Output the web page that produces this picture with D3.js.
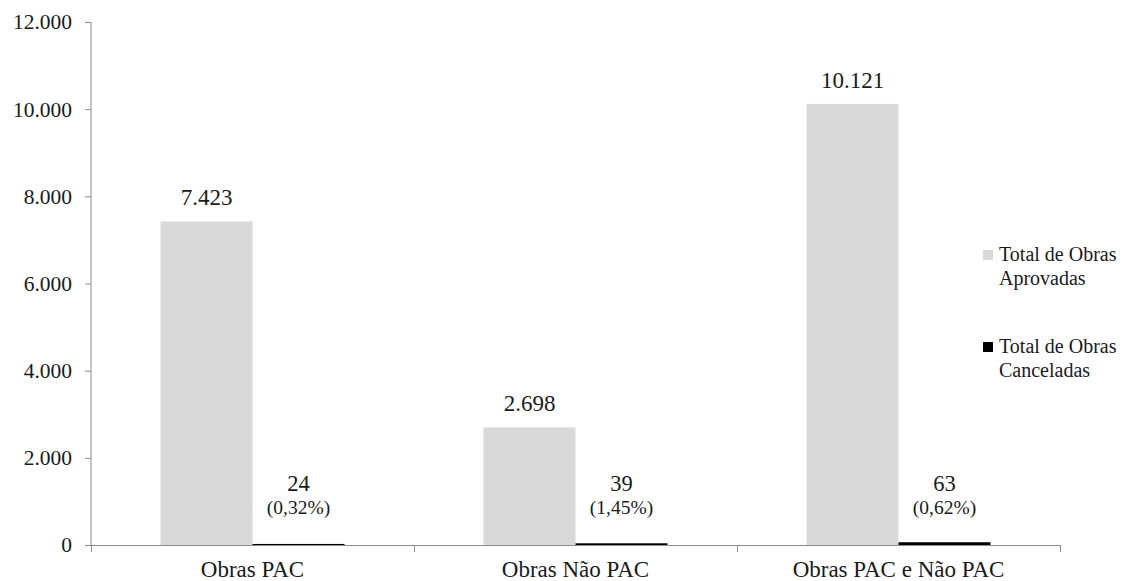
<!DOCTYPE html>
<html>
<head>
<meta charset="utf-8">
<script src="https://cdn.jsdelivr.net/npm/d3@7"></script>
<style>
  html, body { margin: 0; padding: 0; background: #fff; }
</style>
</head>
<body>
<svg id="chart" width="1126" height="581"></svg>
<script>
// Obras aprovadas x canceladas por grupo
const categories = ["Obras PAC", "Obras Não PAC", "Obras PAC e Não PAC"];
const seriesNames = ["Total de Obras Aprovadas", "Total de Obras Canceladas"];
const legendLines = [["Total de Obras", "Aprovadas"], ["Total de Obras", "Canceladas"]];
const aprovadas = [7423, 2698, 10121];
const canceladas = [24, 39, 63];
const yTicks = [0, 2000, 4000, 6000, 8000, 10000, 12000];
const colors = ["#d9d9d9", "#000000"];

const FONT = "'Liberation Serif'";
const locale = d3.formatLocale({ decimal: ",", thousands: ".", grouping: [3], currency: ["R$", ""] });
const fmtInt = locale.format(",.0f");
const fmtPct = locale.format(".2f");

const svg = d3.select("#chart");
const plot = { left: 91, right: 1060, top: 22, bottom: 545 };

const y = d3.scaleLinear().domain([0, 12000]).range([plot.bottom, plot.top]);
const x0 = d3.scaleBand().domain(categories).range([plot.left, plot.right]).padding(0);
const x1 = d3.scaleBand().domain(seriesNames)
  .range([69.5, x0.bandwidth() - 69.5]).padding(0);

const axisColor = "#8c8c8c";
const textColor = "#1a1a1a";

// Y axis
const yAxis = svg.append("g")
  .attr("transform", `translate(${plot.left},0)`)
  .call(d3.axisLeft(y).tickValues(yTicks).tickFormat(fmtInt).tickSize(6).tickPadding(13));
yAxis.attr("font-family", FONT).attr("font-size", null);
yAxis.select(".domain").attr("stroke", axisColor).attr("d", `M0,${plot.top}V${plot.bottom}`);
yAxis.selectAll(".tick line").attr("stroke", axisColor);
yAxis.selectAll(".tick text")
  .attr("fill", textColor)
  .attr("font-family", FONT)
  .attr("font-size", "21.5px");

// Bars
const rows = categories.map((c, i) => ({ cat: c, vals: [aprovadas[i], canceladas[i]] }));
const groups = svg.append("g").selectAll("g").data(rows).join("g")
  .attr("transform", d => `translate(${x0(d.cat)},0)`);

groups.selectAll("rect")
  .data(d => d.vals.map((v, j) => ({ name: seriesNames[j], v, j })))
  .join("rect")
  .attr("x", d => x1(d.name))
  .attr("width", x1.bandwidth())
  .attr("y", d => y(d.v))
  .attr("height", d => plot.bottom - y(d.v))
  .attr("fill", d => colors[d.j]);

// X axis with boundary ticks
const xAxisG = svg.append("g");
xAxisG.append("line")
  .attr("x1", plot.left).attr("x2", plot.right)
  .attr("y1", plot.bottom + 0.5).attr("y2", plot.bottom + 0.5)
  .attr("stroke", axisColor);
const bounds = categories.map(c => x0(c)).concat([plot.right]);
xAxisG.selectAll("line.tk").data(bounds).join("line")
  .attr("class", "tk")
  .attr("x1", d => Math.round(d) + 0.5).attr("x2", d => Math.round(d) + 0.5)
  .attr("y1", plot.bottom).attr("y2", plot.bottom + 7)
  .attr("stroke", axisColor);
xAxisG.selectAll("text").data(categories).join("text")
  .attr("x", d => x0(d) + x0.bandwidth() / 2)
  .attr("y", 577)
  .attr("text-anchor", "middle")
  .attr("fill", textColor)
  .attr("font-family", FONT)
  .attr("font-size", "23px")
  .text(d => d);

// Value labels for approved works
groups.append("text")
  .attr("x", d => x1(seriesNames[0]) + x1.bandwidth() / 2)
  .attr("y", d => y(d.vals[0]) - 16)
  .attr("text-anchor", "middle")
  .attr("fill", textColor)
  .attr("font-family", FONT)
  .attr("font-size", "23px")
  .text(d => fmtInt(d.vals[0]));

// Value labels for cancelled works, with share of approved
const cLab = groups.append("g")
  .attr("transform", d => `translate(${x1(seriesNames[1]) + x1.bandwidth() / 2},0)`);
cLab.append("text")
  .attr("y", 491)
  .attr("text-anchor", "middle")
  .attr("fill", textColor)
  .attr("font-family", FONT)
  .attr("font-size", "22.5px")
  .text(d => fmtInt(d.vals[1]));
cLab.append("text")
  .attr("y", 514)
  .attr("text-anchor", "middle")
  .attr("fill", textColor)
  .attr("font-family", FONT)
  .attr("font-size", "19.5px")
  .text(d => `(${fmtPct(d.vals[1] / d.vals[0] * 100)}%)`);

// Legend
const legend = svg.append("g").selectAll("g").data(seriesNames).join("g")
  .attr("transform", (d, i) => `translate(983,${i === 0 ? 250 : 342})`);
legend.append("rect")
  .attr("width", 10).attr("height", 10)
  .attr("fill", (d, i) => colors[i]);
legend.append("text")
  .attr("fill", textColor)
  .attr("font-family", FONT)
  .attr("font-size", "20px")
  .selectAll("tspan").data((d, i) => legendLines[i]).join("tspan")
  .attr("x", 16)
  .attr("y", (d, k) => 11 + k * 24)
  .text(d => d);
</script>
</body>
</html>
